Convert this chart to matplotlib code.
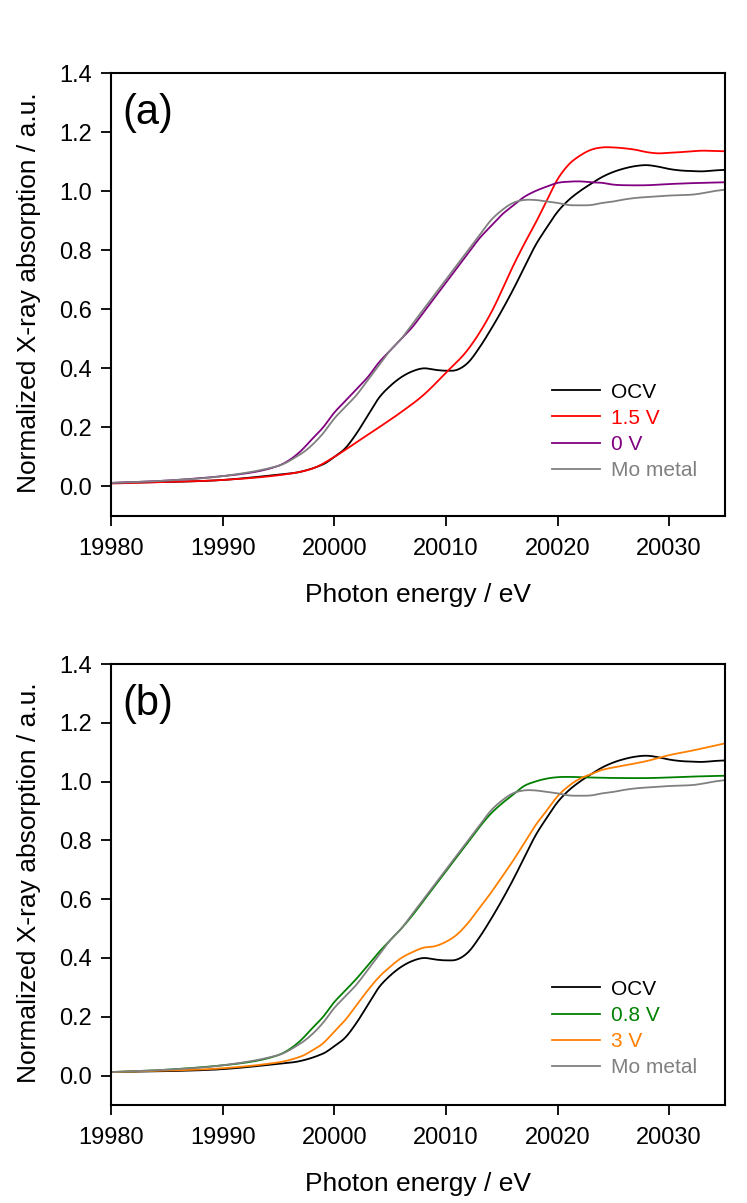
import matplotlib
matplotlib.use("Agg")
import matplotlib.pyplot as plt
import numpy as np

plt.rcParams['font.family'] = ['Liberation Sans', 'DejaVu Sans']

# ---------------- data ----------------
E_ocv = [19980, 19985, 19990, 19995, 19997, 19999, 20000, 20001, 20002, 20003, 20004, 20005, 20006,
         20007, 20008, 20009, 20010, 20011, 20012, 20013, 20014, 20015, 20016, 20017, 20018, 20019,
         20020, 20021, 20022, 20023, 20024, 20025, 20026, 20027, 20028, 20029, 20030, 20031, 20032,
         20033, 20034, 20035]
ocv = [0.012, 0.015, 0.022, 0.040, 0.050, 0.075, 0.100, 0.130, 0.180, 0.240, 0.300, 0.340, 0.370,
       0.390, 0.400, 0.395, 0.392, 0.395, 0.420, 0.470, 0.530, 0.595, 0.665, 0.740, 0.815, 0.875,
       0.930, 0.970, 1.000, 1.025, 1.048, 1.065, 1.077, 1.085, 1.088, 1.083, 1.075, 1.070, 1.068,
       1.067, 1.070, 1.072]

E_15 = [19980, 19985, 19990, 19995, 19998, 20000, 20002, 20004, 20006, 20008, 20010, 20012, 20014,
        20016, 20017, 20018, 20019, 20020, 20021, 20022, 20023, 20024, 20025, 20026, 20027, 20028,
        20029, 20030, 20031, 20032, 20033, 20034, 20035]
v15 = [0.010, 0.015, 0.022, 0.038, 0.060, 0.100, 0.150, 0.200, 0.252, 0.310, 0.385, 0.465, 0.585,
       0.745, 0.820, 0.890, 0.965, 1.040, 1.090, 1.120, 1.140, 1.148, 1.148, 1.145, 1.140, 1.132,
       1.128, 1.130, 1.132, 1.135, 1.137, 1.136, 1.135]

E_0 = [19980, 19985, 19990, 19993, 19995, 19996, 19997, 19998, 19999, 20000, 20001, 20002, 20003,
       20004, 20005, 20006, 20007, 20008, 20009, 20010, 20011, 20012, 20013, 20014, 20015, 20016,
       20017, 20018, 20019, 20020, 20021, 20022, 20023, 20024, 20025, 20026, 20028, 20030, 20032,
       20035]
v0 = [0.012, 0.020, 0.035, 0.050, 0.070, 0.090, 0.120, 0.160, 0.200, 0.250, 0.290, 0.330, 0.370,
      0.420, 0.460, 0.500, 0.540, 0.590, 0.640, 0.690, 0.740, 0.790, 0.840, 0.880, 0.920, 0.950,
      0.980, 1.000, 1.015, 1.028, 1.032, 1.033, 1.030, 1.028, 1.022, 1.020, 1.020, 1.024, 1.027,
      1.030]

E_mo = [19980, 19985, 19990, 19995, 19997, 19998, 19999, 20000, 20001, 20002, 20003, 20004, 20005,
        20006, 20007, 20008, 20009, 20010, 20011, 20012, 20013, 20014, 20015, 20016, 20017, 20018,
        20019, 20020, 20021, 20022, 20023, 20024, 20025, 20026, 20027, 20028, 20030, 20032, 20033,
        20034, 20035]
mo = [0.012, 0.020, 0.035, 0.070, 0.110, 0.140, 0.180, 0.230, 0.270, 0.310, 0.360, 0.410, 0.460,
      0.500, 0.550, 0.600, 0.650, 0.700, 0.750, 0.800, 0.850, 0.900, 0.935, 0.960, 0.970, 0.970,
      0.965, 0.960, 0.953, 0.952, 0.953, 0.960, 0.965, 0.972, 0.977, 0.980, 0.985, 0.988, 0.993,
      1.000, 1.005]

E_08 = [19980, 19985, 19990, 19993, 19995, 19996, 19997, 19998, 19999, 20000, 20001, 20002, 20003,
        20004, 20005, 20006, 20007, 20008, 20009, 20010, 20011, 20012, 20013, 20014, 20015, 20016,
        20017, 20018, 20019, 20020, 20021, 20022, 20024, 20026, 20028, 20030, 20032, 20035]
v08 = [0.012, 0.020, 0.035, 0.050, 0.070, 0.090, 0.120, 0.160, 0.200, 0.250, 0.290, 0.330, 0.375,
       0.420, 0.460, 0.500, 0.545, 0.595, 0.645, 0.695, 0.745, 0.795, 0.845, 0.890, 0.925, 0.955,
       0.985, 1.000, 1.010, 1.015, 1.016, 1.015, 1.013, 1.012, 1.012, 1.014, 1.017, 1.020]

E_3 = [19980, 19985, 19990, 19995, 19997, 19998, 19999, 20000, 20001, 20002, 20003, 20004, 20005,
       20006, 20007, 20008, 20009, 20010, 20011, 20012, 20013, 20014, 20015, 20016, 20017, 20018,
       20019, 20020, 20021, 20022, 20023, 20024, 20026, 20028, 20030, 20032, 20035]
v3 = [0.012, 0.017, 0.025, 0.045, 0.065, 0.085, 0.110, 0.150, 0.190, 0.240, 0.290, 0.335, 0.370,
      0.400, 0.420, 0.435, 0.440, 0.455, 0.480, 0.520, 0.570, 0.620, 0.675, 0.730, 0.790, 0.850,
      0.900, 0.950, 0.985, 1.010, 1.025, 1.040, 1.055, 1.070, 1.090, 1.105, 1.130]

labels_a = ["OCV", "1.5 V", "0 V", "Mo metal"]
labels_b = ["OCV", "0.8 V", "3 V", "Mo metal"]
xticks = [19980, 19990, 20000, 20010, 20020, 20030]
yticks = [0.0, 0.2, 0.4, 0.6, 0.8, 1.0, 1.2, 1.4]

C_OCV = "#000000"
C_15 = "#ff0000"
C_0 = "#800080"
C_MO = "#808080"
C_08 = "#008000"
C_3 = "#ff8000"

W, H = 747, 1203
fig = plt.figure(figsize=(W / 100, H / 100), dpi=100)

def axes_px(left, top, right, bottom):
    return fig.add_axes([left / W, 1 - bottom / H, (right - left) / W, (bottom - top) / H])

def fig_text_px(x, y, s, **kw):
    fig.text(x / W, 1 - y / H, s, **kw)

ax_a = axes_px(111, 73, 725, 516)
ax_b = axes_px(111, 664, 725, 1105)

def smooth(x, y):
    xs = np.linspace(x[0], x[-1], 600)
    x = np.asarray(x, float); y = np.asarray(y, float)
    n = len(x)
    m = np.zeros(n)
    for i in range(n):
        if i == 0:
            m[i] = (y[1] - y[0]) / (x[1] - x[0])
        elif i == n - 1:
            m[i] = (y[-1] - y[-2]) / (x[-1] - x[-2])
        else:
            m[i] = (y[i + 1] - y[i - 1]) / (x[i + 1] - x[i - 1])
    idx = np.clip(np.searchsorted(x, xs) - 1, 0, n - 2)
    h = x[idx + 1] - x[idx]
    t = (xs - x[idx]) / h
    h00 = 2 * t**3 - 3 * t**2 + 1
    h10 = t**3 - 2 * t**2 + t
    h01 = -2 * t**3 + 3 * t**2
    h11 = t**3 - t**2
    out = h00 * y[idx] + h10 * h * m[idx] + h01 * y[idx + 1] + h11 * h * m[idx + 1]
    return xs, out

def style(ax, tag, series, labels, leg_top, top_px, bottom_px):
    lines = []
    for (x, y, c) in series:
        xs, ys = smooth(x, y)
        ln, = ax.plot(xs, ys, color=c, lw=1.3)
        lines.append(ln)
    ax.set_xlim(19980, 20035)
    ax.set_ylim(-0.1, 1.4)
    ax.set_xticks(xticks)
    ax.set_yticks(yticks)
    ax.set_yticklabels([f"{v:.1f}" for v in yticks])
    ax.tick_params(direction='out', length=7, width=1.3, labelsize=17)
    ax.tick_params(axis='x', pad=9)
    ax.tick_params(axis='y', pad=7)
    for s in ax.spines.values():
        s.set_linewidth(1.5)
    fig_text_px(418, bottom_px + 86, "Photon energy / eV", fontsize=19, ha='center', va='baseline')
    fig_text_px(36, (top_px + bottom_px) / 2 - 2, "Normalized X-ray absorption / a.u.", fontsize=19,
                rotation=90, ha='center', va='baseline', rotation_mode='anchor')
    ax.text(0.018, 0.885, tag, transform=ax.transAxes, fontsize=30, va='baseline', ha='left')
    ax.legend(lines, labels, loc='upper left', bbox_to_anchor=(0.718, leg_top),
              frameon=False, fontsize=15, handlelength=2.3, handletextpad=0.55,
              labelspacing=0.34, borderpad=0, borderaxespad=0, labelcolor='linecolor')

style(ax_a, "(a)", [(E_ocv, ocv, C_OCV), (E_15, v15, C_15), (E_0, v0, C_0), (E_mo, mo, C_MO)],
      labels_a, 0.301, 73, 516)
style(ax_b, "(b)", [(E_ocv, ocv, C_OCV), (E_08, v08, C_08), (E_3, v3, C_3), (E_mo, mo, C_MO)],
      labels_b, 0.284, 664, 1105)

fig.savefig("out.png", dpi=100)
